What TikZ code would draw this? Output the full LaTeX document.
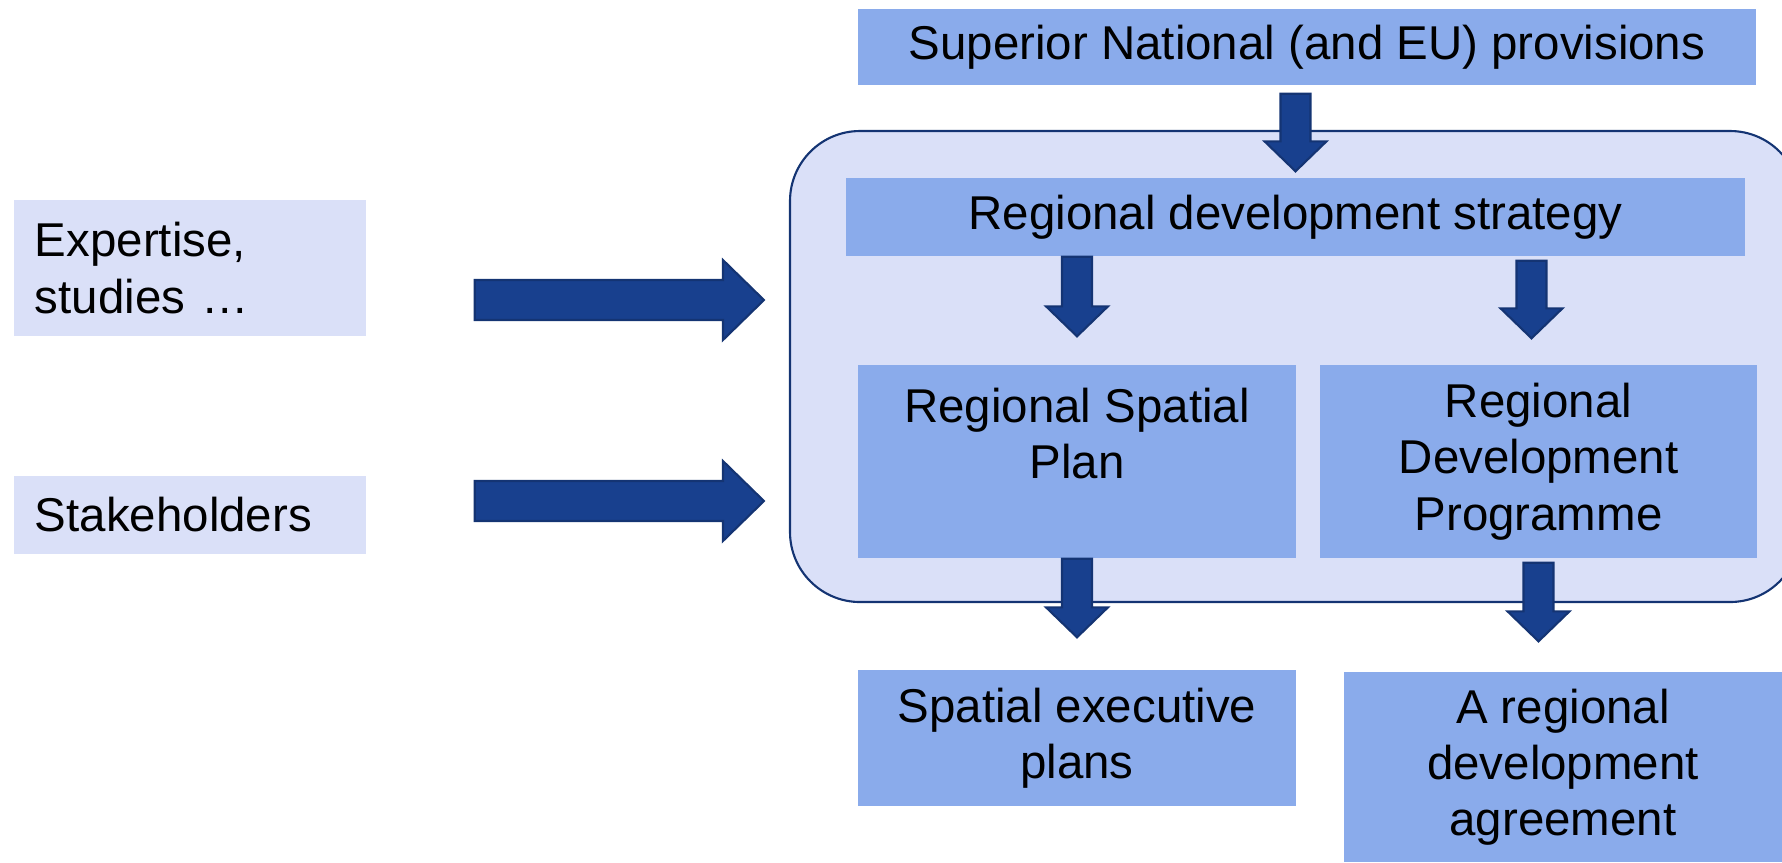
\documentclass[tikz,border=0pt]{standalone}
\usepackage{fontspec}
\setmainfont{Liberation Sans}
\usetikzlibrary{calc}
\definecolor{boxblue}{RGB}{138,171,235}
\definecolor{paleblue}{RGB}{218,224,248}
\definecolor{arrowblue}{RGB}{24,64,142}
\definecolor{edgeblue}{RGB}{20,52,115}
\begin{document}
\begin{tikzpicture}[
    txt/.style={font=\fontsize{13.5}{16}\selectfont, inner sep=0pt, align=center},
    midbox/.style={txt, fill=boxblue},
    palebox/.style={txt, fill=paleblue, align=left, text width=3.10cm, inner xsep=0.21cm},
    fatdown/.style={fill=arrowblue, draw=edgeblue, line width=0.6pt, to path={let \p1=(\tikztostart), \p2=(\tikztotarget) in
        (\x1-0.15cm,\y1) -- (\x1+0.15cm,\y1) -- (\x1+0.15cm,\y2+0.30cm) -- (\x1+0.31cm,\y2+0.30cm) -- (\x1,\y2)
        -- (\x1-0.31cm,\y2+0.30cm) -- (\x1-0.15cm,\y2+0.30cm) -- cycle}},
    fatright/.style={fill=arrowblue, draw=edgeblue, line width=0.6pt, to path={let \p1=(\tikztostart), \p2=(\tikztotarget) in
        (\x1,\y1+0.20cm) -- (\x2-0.41cm,\y1+0.20cm) -- (\x2-0.41cm,\y1+0.40cm) -- (\x2,\y1)
        -- (\x2-0.41cm,\y1-0.40cm) -- (\x2-0.41cm,\y1-0.20cm) -- (\x1,\y1-0.20cm) -- cycle}}
]
    \useasboundingbox (0,0) rectangle (17.82,-8.62);
    \clip (0,0) rectangle (17.82,-8.62);
    \node[draw=edgeblue, line width=0.6pt, fill=paleblue, rounded corners=0.7cm, minimum width=10.10cm, minimum height=4.71cm] (cont) at (12.95,-3.665) {};
    \node[midbox, minimum width=8.98cm, minimum height=0.76cm] (sup) at (13.07,-0.47) {Superior National (and EU) provisions};
    \node[midbox, minimum width=8.99cm, minimum height=0.78cm] (strat) at (12.955,-2.17) {Regional development strategy};
    \node[midbox, minimum width=4.38cm, minimum height=1.93cm] (rsp) at (10.77,-4.615) {Regional Spatial\\Plan\\\mbox{}};
    \node[midbox, minimum width=4.37cm, minimum height=1.93cm] (rdp) at (15.385,-4.615) {Regional\\Development\\Programme};
    \node[midbox, minimum width=4.38cm, minimum height=1.36cm] (sep) at (10.77,-7.38) {Spatial executive\\plans};
    \node[midbox, minimum width=4.38cm, minimum height=1.90cm] (rda) at (15.63,-7.67) {A regional\\development\\agreement};
    \node[palebox, minimum height=1.36cm] (exp) at (1.90,-2.68) {Expertise,\\studies …};
    \node[palebox, minimum height=0.78cm] (stk) at (1.90,-5.15) {Stakeholders};
    \draw[fatdown] ($(strat.north |- sup.south)+(0,-0.08)$) to ($(strat.north)+(0,0.06)$);
    \draw[fatdown] (rsp.north |- strat.south) to ($(rsp.north)+(0,0.28)$);
    \draw[fatdown] ($(rdp.north |- strat.south)+(-0.07,-0.04)$) to ($(rdp.north)+(0,0.26)$);
    \draw[fatdown] (rsp.south) to ($(sep.north)+(0,0.32)$);
    \draw[fatdown] ($(rdp.south)+(0,-0.04)$) to ($(rda.north)+(0,0.30)$);
    \draw[fatright] ($(exp.east)+(1.08,-0.32)$) to ($(cont.west)+(-0.25,0)$);
    \draw[fatright] ($(stk.east)+(1.08,0.14)$) to ($(cont.west)+(-0.25,0)$);
\end{tikzpicture}
\end{document}
